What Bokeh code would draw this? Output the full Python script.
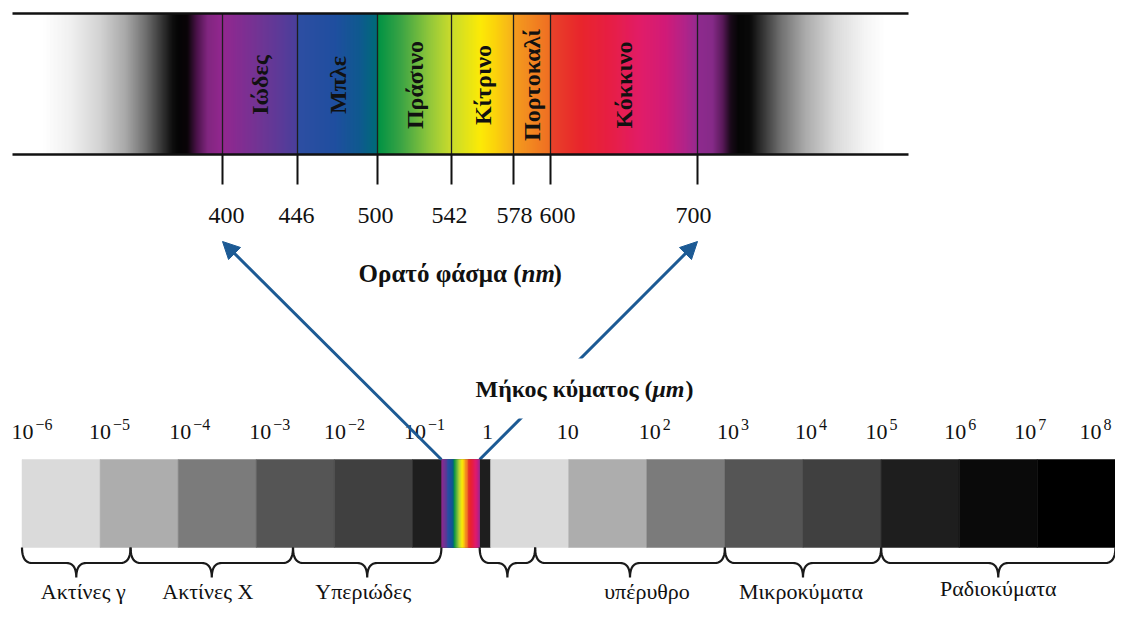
import numpy as np
from bokeh.plotting import figure
from bokeh.models import Range1d, Arrow, NormalHead
from bokeh.core.properties import value
from bokeh.embed import file_html
from bokeh.resources import INLINE

# ---------------- data ----------------
band_names = ["Ιώδες", "Μπλε", "Πράσινο", "Κίτρινο", "Πορτοκαλί", "Κόκκινο"]
band_edges_nm = [400, 446, 500, 542, 578, 600, 700]
decades = list(range(-6, 9))            # log10(wavelength / μm)
region_names = ["Ακτίνες γ", "Ακτίνες X", "Υπεριώδες", "", "υπέρυθρο", "Μικροκύματα", "Ραδιοκύματα"]
region_lo = [-6.0, -4.61, -2.53, -0.14, 0.57, 3.0, 5.0]
region_hi = [-4.61, -2.53, -0.63, 0.57, 3.0, 5.0, 8.0]
visible_band = [-0.63, -0.14]           # where the rainbow strip sits on the decade bar

# ---------------- layout / style ----------------
W, H = 1115, 605
FONT = value("Liberation Serif")
BLUE = "#1c5a94"
INK = "#111111"
edge_x = [222, 297, 377, 451, 513, 550, 697]     # hand-drawn nm scale positions
tick_label_dx = [4, -1, -2, -2, 1, 7, -4]
dec_label_dx = [0.5, 0, 2, 4, 0.6, 2.5, -3, -1, 3, 3, 3, -4.5, -4, -12, -25]
SPEC_TOP, SPEC_BOT, SPEC_L, SPEC_R = 13, 154, 12, 908
BAR_TOP, BAR_BOT = 459, 547
DEC0_X, DEC_PX = 21.5, 78.1
X0, X1 = 0.0, 1115.0
decade_fill = ["#dadada", "#adadad", "#7b7b7b", "#555555", "#404040", "#1e1e1e",
               "#dadada", "#adadad", "#7b7b7b", "#555555", "#404040", "#1e1e1e",
               "#0a0a0a", "#000000"]

spec_stops = [
    (12, "#ffffff"), (42, "#ffffff"), (70, "#f0f0f0"), (100, "#d2d2d2"), (125, "#a8a8a8"),
    (145, "#707070"), (160, "#3a3a3a"), (172, "#0e0e0e"), (178, "#050505"), (187, "#0a0508"),
    (196, "#4a1248"), (207, "#80267f"), (221.5, "#93278f"),
    (222.5, "#92278f"), (260, "#703594"), (296.5, "#4a3f9b"),
    (297.5, "#2e4fa2"), (335, "#1f4f9f"), (360, "#0e5a8e"), (376.5, "#006b78"),
    (377.5, "#009245"), (400, "#3aa345"), (430, "#93c83a"), (450.5, "#cadb2c"),
    (451.5, "#c8dc2c"), (480, "#fcea06"), (495, "#fbd20c"), (512.5, "#f6b01c"),
    (513.5, "#f49c1e"), (549.5, "#ef6e23"),
    (550.5, "#e8432a"), (580, "#e8262c"), (610, "#e71e45"), (640, "#e11d68"),
    (665, "#d11b78"), (685, "#b02489"), (696.5, "#962a8e"),
    (697.5, "#8e2b8e"), (712, "#862a88"), (722, "#5a1a5a"), (730, "#1a0a1a"),
    (738, "#050505"), (750, "#0a0a0a"), (762, "#333333"), (780, "#707070"),
    (805, "#ababab"), (835, "#dadada"), (865, "#f5f5f5"), (885, "#ffffff"), (908, "#ffffff"),
]


def grad(xs):
    sx = [s[0] for s in spec_stops]
    rgb = np.array([[int(c[i:i + 2], 16) for i in (1, 3, 5)] for _, c in spec_stops], float)
    ch = [np.interp(xs, sx, rgb[:, k]) for k in range(3)]
    return ["#%02x%02x%02x" % (int(round(r)), int(round(g)), int(round(b))) for r, g, b in zip(*ch)]


p = figure(width=W, height=H, x_range=Range1d(X0, X1), y_range=Range1d(605.0, 0.0),
           x_axis_type=None, y_axis_type=None, output_backend="svg",
           toolbar_location=None, min_border=0)
p.outline_line_color = None
p.background_fill_color = "white"
p.border_fill_color = "white"
p.extra_x_ranges = {"dec": Range1d(-6 + (X0 - DEC0_X) / DEC_PX, -6 + (X1 - DEC0_X) / DEC_PX)}

TXT = dict(text_font=FONT, text_color=INK, text_baseline="middle")

# ---------- visible spectrum (top) ----------
cols_x = np.arange(SPEC_L, SPEC_R, 1.0)
p.quad(left=cols_x, right=np.minimum(cols_x + 1.6, SPEC_R), top=SPEC_TOP, bottom=SPEC_BOT,
       fill_color=grad(cols_x + 0.5), line_color=None)
p.segment(x0=edge_x, y0=SPEC_TOP, x1=edge_x, y1=SPEC_BOT, line_color="#1e1e1e", line_width=1.3)
p.segment(x0=edge_x, y0=SPEC_BOT, x1=edge_x, y1=184, line_color=INK, line_width=2)
p.segment(x0=SPEC_L, y0=[SPEC_TOP, SPEC_BOT], x1=SPEC_R, y1=[SPEC_TOP, SPEC_BOT],
          line_color=INK, line_width=2.5)

band_cx = [(a + b) / 2 for a, b in zip(edge_x[:-1], edge_x[1:])]
p.text(x=band_cx, y=(SPEC_TOP + SPEC_BOT) / 2 + 1, text=band_names, angle=np.pi / 2,
       text_font_style="bold", text_font_size="24px", text_align="center", **TXT)

p.text(x=edge_x, y=215, text=[str(v) for v in band_edges_nm], x_offset=tick_label_dx,
       text_font_size="24px", text_align="center", **TXT)

# title pieces: "Ορατό φάσμα (nm)"
p.text(x=[521], y=[273], text=["Ορατό φάσμα ("], text_font_style="bold",
       text_font_size="25px", text_align="right", **TXT)
p.text(x=[521], y=[273], text=["nm"], text_font_style="bold italic",
       text_font_size="25px", text_align="left", **TXT)
p.text(x=[553], y=[273], text=[")"], text_font_style="bold",
       text_font_size="25px", text_align="left", **TXT)

# ---------- decade bar (bottom) ----------
p.quad(left=decades[:-1], right=decades[1:], top=BAR_TOP, bottom=BAR_BOT,
       fill_color=decade_fill, line_color=decade_fill, line_width=0.5, x_range_name="dec")
n = 90
f = np.linspace(0, 1, n + 1)
rx = visible_band[0] + f * (visible_band[1] - visible_band[0])
rcol = grad(edge_x[0] + (f[:-1] + f[1:]) / 2 * (edge_x[-1] - edge_x[0]))
p.quad(left=rx[:-1], right=np.minimum(rx[1:] + 0.01, visible_band[1]), top=BAR_TOP, bottom=BAR_BOT,
       fill_color=rcol, line_color=None, x_range_name="dec")

base_txt, exp_txt, exp_x, exp_dx = [], [], [], []
for k, dx in zip(decades, dec_label_dx):
    if k == 0:
        base_txt.append("1")
    elif k == 1:
        base_txt.append("10")
    else:
        base_txt.append("10")
        exp_txt.append(("\u2212" + str(-k)) if k < 0 else str(k))
        exp_x.append(k)
        exp_dx.append(dx + 13)
p.text(x=decades, y=431, text=base_txt, x_offset=dec_label_dx, x_range_name="dec",
       text_font_size="22px", text_align="center", **TXT)
p.text(x=exp_x, y=424, text=exp_txt, x_offset=exp_dx, x_range_name="dec",
       text_font_size="16px", text_align="left", **TXT)

# braces
hk = 10.0 / DEC_PX
YT, YM, YB = 547, 562.5, 577
tq = np.linspace(0, 1, 12)


def qb(p0, c, p1):
    return ((1 - tq) ** 2 * p0[0] + 2 * (1 - tq) * tq * c[0] + tq ** 2 * p1[0],
            (1 - tq) ** 2 * p0[1] + 2 * (1 - tq) * tq * c[1] + tq ** 2 * p1[1])


bxs, bys = [], []
for lo, hi in zip(region_lo, region_hi):
    m = (lo + hi) / 2
    segs = [qb((lo, YT), (lo, YM), (lo + hk, YM)),
            qb((m - hk, YM), (m, YM), (m, YB)),
            qb((m, YB), (m, YM), (m + hk, YM)),
            qb((hi - hk, YM), (hi, YM), (hi, YT))]
    bxs.append(np.concatenate([s[0] for s in segs]).tolist())
    bys.append(np.concatenate([s[1] for s in segs]).tolist())
p.multi_line(xs=bxs, ys=bys, line_color="#1a1a1a", line_width=2.2, x_range_name="dec")

reg_mid = [(a + b) / 2 for a, b in zip(region_lo, region_hi)]
reg_dx = [7, -4, -4, 0, 17, -2, 0]
reg_y = [591, 591, 591, 591, 591, 591, 588]
p.text(x=reg_mid, y=reg_y, text=region_names, x_offset=reg_dx, x_range_name="dec",
       text_font_size="22px", text_align="center", **TXT)

# ---------- arrows ----------
vis_px = [DEC0_X + DEC_PX * (v + 6) for v in visible_band]
p.add_layout(Arrow(end=NormalHead(size=17, fill_color=BLUE, line_color=BLUE, line_width=1),
                   x_start=vis_px[0], y_start=BAR_TOP, x_end=edge_x[0], y_end=241,
                   line_color=BLUE, line_width=3))
p.add_layout(Arrow(end=NormalHead(size=17, fill_color=BLUE, line_color=BLUE, line_width=1),
                   x_start=vis_px[1], y_start=BAR_TOP, x_end=edge_x[-1], y_end=241,
                   line_color=BLUE, line_width=3, level="underlay"))
p.quad(left=[468], right=[708], top=[358], bottom=[418], fill_color="white", line_color=None)

# "Μήκος κύματος (μm)"
p.text(x=[652], y=[388], text=["Μήκος κύματος ("], text_font_style="bold",
       text_font_size="24px", text_align="right", **TXT)
p.text(x=[652], y=[388], text=["μm"], text_font_style="bold italic",
       text_font_size="24px", text_align="left", **TXT)
p.text(x=[685], y=[388], text=[")"], text_font_style="bold",
       text_font_size="24px", text_align="left", **TXT)

open("out.html", "w").write(file_html(p, INLINE))
